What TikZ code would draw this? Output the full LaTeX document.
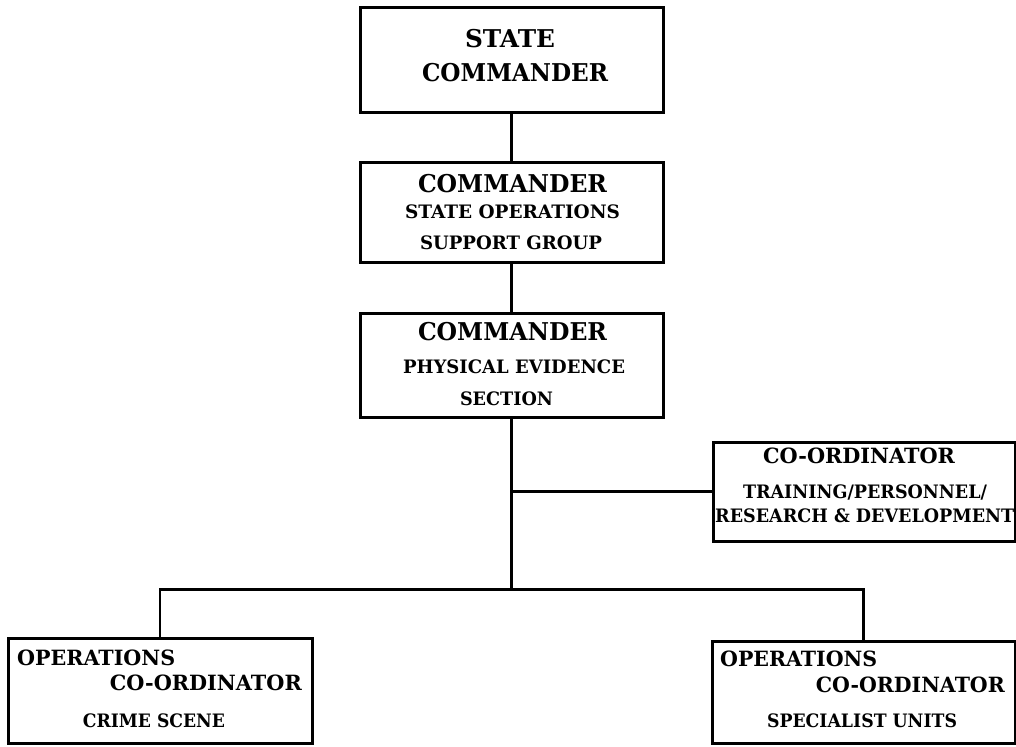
\documentclass[tikz,border=0pt]{standalone}
\usepackage{fontspec}
\usepackage{graphicx}
\setmainfont{DejaVu Serif}
\newcommand\fw[2]{\resizebox{#1pt}{\height}{#2}}
\begin{document}
\begin{tikzpicture}[x=1pt,y=-1pt,
  box/.style={draw, line width=3pt, inner sep=0pt, minimum width=#1},
  conn/.style={line width=2.2pt},
  big/.style={inner sep=0pt, font=\bfseries\fontsize{24.5}{26}\selectfont},
  mid/.style={inner sep=0pt, font=\bfseries\fontsize{21}{24}\selectfont},
  sml/.style={inner sep=0pt, font=\bfseries\fontsize{18.5}{20}\selectfont}]
\useasboundingbox (0,0) rectangle (1016,746);
% boxes
\node[box=303pt, minimum height=105pt] (b1) at (511.5,60.5) {};
\node[box=303pt, minimum height=99pt] (b2) at (511.5,212.5) {};
\node[box=303pt, minimum height=104pt] (b3) at (511.5,365) {};
\node[box=302pt, minimum height=99pt] (b4) at (864,491.5) {};
\node[box=304pt, minimum height=105pt] (b5) at (160,690.5) {};
\node[box=303pt, minimum height=102pt] (b6) at (863.5,692) {};
\coordinate (j) at (511.5,589.5);
% connectors
\draw[conn] (b1) -- (b2);
\draw[conn] (b2) -- (b3);
\draw[conn] (b3.south) -- (j);
\draw[conn] (b3.south |- b4.west) -- (b4.west);
\draw[conn] (b5.north) |- (j) -| (b6.north);
% texts
\node[big, anchor=base] (t11) at (510,48) {\fw{90}{STATE}};
\node[big, anchor=base] (t12) at (515,82) {\fw{186}{COMMANDER}};
\node[big, anchor=base] (t21) at (512.5,192) {\fw{189}{COMMANDER}};
\node[sml, anchor=base] (t22) at (512.5,218) {\fw{215}{STATE OPERATIONS}};
\node[sml, anchor=base] (t23) at (511,249) {\fw{182}{SUPPORT GROUP}};
\node[big, anchor=base] (t31) at (512.5,340) {\fw{189}{COMMANDER}};
\node[sml, anchor=base] (t32) at (514,373) {\fw{222}{PHYSICAL EVIDENCE}};
\node[sml, anchor=base] (t33) at (506.5,405) {\fw{93}{SECTION}};
\node[mid, anchor=base] (t41) at (859,463) {\fw{192}{CO-ORDINATOR}};
\node[sml, anchor=base] (t42) at (865,498) {\fw{244}{TRAINING/PERSONNEL/}};
\node[sml, anchor=base west] (t43) at (715,522) {\fw{299}{RESEARCH \& DEVELOPMENT}};
\node[mid, anchor=base west] (t51) at (17,665) {\fw{158}{OPERATIONS}};
\node[mid, anchor=base east] (t52) at (302,690) {\fw{192}{CO-ORDINATOR}};
\node[sml, anchor=base] (t53) at (154,727) {\fw{142}{CRIME SCENE}};
\node[mid, anchor=base west] (t61) at (720,666) {\fw{157}{OPERATIONS}};
\node[mid, anchor=base east] (t62) at (1005,692) {\fw{189}{CO-ORDINATOR}};
\node[sml, anchor=base] (t63) at (862,727) {\fw{190}{SPECIALIST UNITS}};
\end{tikzpicture}
\end{document}
